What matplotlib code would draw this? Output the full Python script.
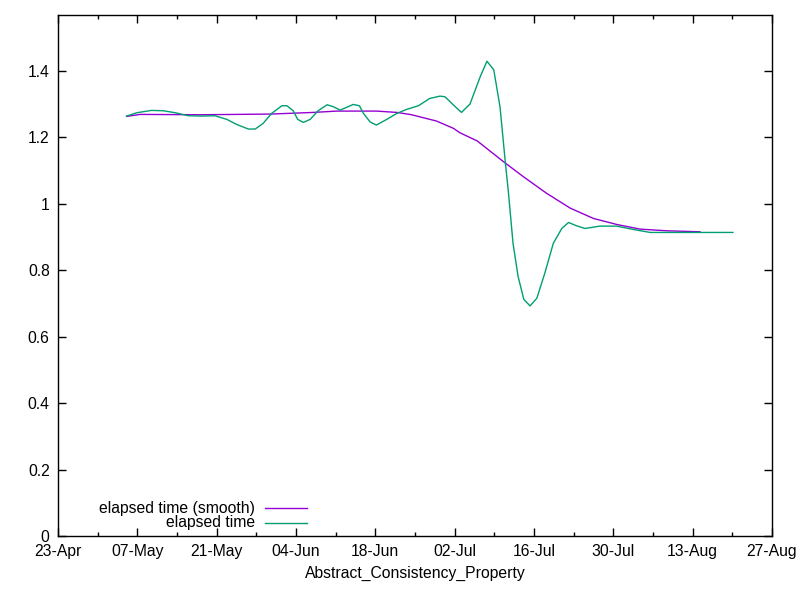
import numpy as np
import matplotlib
matplotlib.use("Agg")
import matplotlib.pyplot as plt
import matplotlib.dates as mdates
from matplotlib.ticker import FuncFormatter, FixedLocator
import datetime as dt

plt.rcParams['font.family'] = ['Liberation Sans', 'DejaVu Sans']

start = dt.date(2019, 4, 23)

# days after 23-Apr
raw_days = [12.1, 13.9, 16.5, 18.6, 20.7, 23.0, 25.4, 27.7, 29.8, 31.5,
            33.6, 34.8, 36.2, 37.7, 39.5, 40.4, 41.5, 42.3, 43.3, 44.5,
            45.9, 47.5, 48.6, 49.8, 50.9, 52.1, 53.2, 53.9, 55.1, 56.2,
            58.0, 59.8, 61.5, 63.6, 65.6, 67.4, 68.3, 69.8, 71.2, 72.7,
            74.5, 75.7, 76.9, 78.0, 78.9, 79.5, 80.3, 81.2, 82.2, 83.3,
            84.5, 85.9, 87.4, 88.9, 90.1, 91.5, 93.0, 95.6, 98.6, 101.5,
            104.5, 113.3, 119.1]
raw_vals = [1.263, 1.273, 1.280, 1.279, 1.273, 1.264, 1.263, 1.264, 1.253, 1.238,
            1.224, 1.224, 1.241, 1.271, 1.294, 1.294, 1.279, 1.253, 1.244, 1.253,
            1.279, 1.297, 1.291, 1.281, 1.289, 1.298, 1.294, 1.271, 1.245, 1.236,
            1.253, 1.271, 1.283, 1.294, 1.316, 1.323, 1.321, 1.296, 1.274, 1.299,
            1.381, 1.428, 1.402, 1.291, 1.131, 1.031, 0.880, 0.780, 0.712, 0.692,
            0.715, 0.790, 0.880, 0.925, 0.943, 0.933, 0.925, 0.932, 0.932, 0.922,
            0.913, 0.913, 0.913]

smooth_days = [12.1, 14.5, 25.1, 37.4, 45.1, 49.2, 56.2, 59.8, 62.4, 66.8,
               69.8, 70.9, 74.0, 78.6, 82.1, 86.2, 90.4, 94.5, 98.6, 102.7,
               107.4, 113.3]
smooth_vals = [1.262, 1.268, 1.267, 1.269, 1.274, 1.278, 1.278, 1.274, 1.267, 1.248,
               1.226, 1.213, 1.188, 1.126, 1.081, 1.031, 0.986, 0.955, 0.937, 0.923,
               0.918, 0.915]

base = mdates.date2num(start)
purple = '#9400d3'
green = '#009e73'

fig = plt.figure(figsize=(8, 6), dpi=100)
ax = fig.add_axes([58 / 800, 64 / 600, 714 / 800, 521 / 600])

ax.plot(base + np.array(smooth_days), smooth_vals, color=purple, lw=1.0)
ax.plot(base + np.array(raw_days), raw_vals, color=green, lw=1.0)

ax.set_xlim(base, base + 126)
ax.set_ylim(0, 1.567)

ax.xaxis.set_major_locator(FixedLocator(base + np.arange(0, 127, 14)))
ax.xaxis.set_minor_locator(FixedLocator(base + np.arange(7, 127, 14)))
ax.xaxis.set_major_formatter(mdates.DateFormatter('%d-%b'))
ax.set_yticks(np.arange(0, 1.41, 0.2))
ax.yaxis.set_major_formatter(FuncFormatter(lambda v, p: '%g' % round(v, 2)))

ax.tick_params(which='both', direction='in', top=True, right=True,
               labelsize=11.3, colors='black', width=1)
ax.tick_params(which='major', length=6, pad=6)
ax.tick_params(which='minor', length=3)
for s in ax.spines.values():
    s.set_linewidth(1)

ax.set_xlabel('Abstract_Consistency_Property', fontsize=11.3, labelpad=5)

# gnuplot-style key: right-justified text, sample line to the right
key = [('elapsed time (smooth)', purple, 0.0537), ('elapsed time', green, 0.025)]
for label, col, ky in key:
    ax.text(0.276, ky, label, transform=ax.transAxes, ha='right', va='center', fontsize=11.3)
    ax.plot([0.290, 0.349], [ky, ky], transform=ax.transAxes, color=col, lw=1.0)

fig.savefig('out.png', dpi=100)
